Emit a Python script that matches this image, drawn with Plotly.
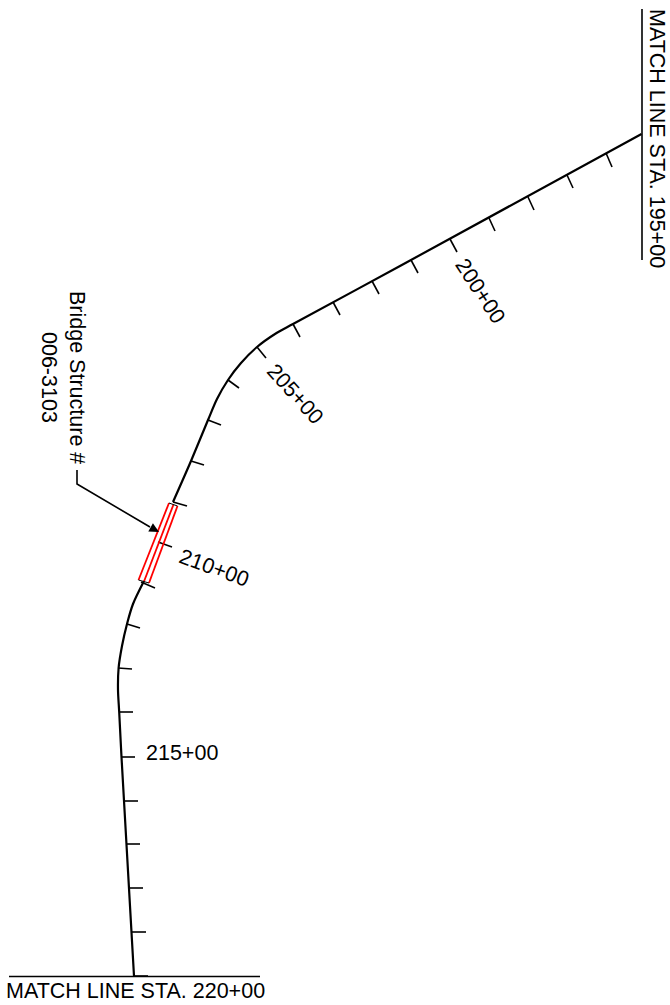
import plotly.graph_objects as go

# Alignment centreline
west_x = [641.5, 400, 293, 275, 257, 241, 228, 217, 208, 191, 173]
west_y = [134, 266, 324, 334, 347, 363, 380, 399, 420, 461, 502]
south_x = [144, 133, 127, 122, 118.6, 118, 119.2, 121.5, 134]
south_y = [581, 604, 624, 646, 668, 690, 712, 757, 976]

# Station ticks 196+00 .. 220+00
stations = [196, 197, 198, 199, 200, 201, 202, 203, 204, 205, 206, 207, 208, 209, 210, 211, 212, 213, 214, 215, 216, 217, 218, 219, 220]
tick_x0 = [606, 567, 528, 489, 450, 411, 372, 333, 293, 257, 228, 208, 191, 173, 158, 141, 127, 118, 119, 121, 124, 126, 129, 132, 134]
tick_y0 = [153, 175, 197, 218, 239, 260, 281, 302, 324, 347, 380, 420, 461, 502, 542, 582, 624, 668, 712, 757, 801, 844, 888, 932, 976]
tick_x1 = [612, 573, 534, 495, 457, 418, 379, 340, 300, 266, 239, 221, 204, 187, 172, 155, 140, 132, 133, 135, 138, 140, 143, 146, 148]
tick_y1 = [167, 188, 210, 231, 252, 273, 294, 315, 337, 358, 388, 425, 465, 506, 547, 588, 628, 669, 712, 757, 801, 844, 888, 932, 976]

# Bridge structure
bridge_left_x, bridge_left_y = [169, 138.5], [503, 580]
bridge_mid_x, bridge_mid_y = [173.5, 144], [504.5, 581.5]
bridge_right_x, bridge_right_y = [177.5, 149], [506, 583]
bridge_top_x, bridge_top_y = [169, 177.5], [503, 506]
bridge_bot_x, bridge_bot_y = [138.5, 149], [580, 583]

# Leader
leader_x = [77, 77, 150]
leader_y = [470, 484, 527]
arrow_tip = (159, 532)

# Match lines
match_bottom_x, match_bottom_y = [9, 260], [976.5, 976.5]
match_right_x, match_right_y = [642, 642], [9, 260]

# Labels
label_text = ["200+00", "205+00", "210+00", "215+00", "Bridge Structure #", "006-3103", "MATCH LINE STA. 195+00", "MATCH LINE STA. 220+00"]
label_x = [480, 295, 214, 182, 77, 49, 657, 135.5]
label_y = [291, 394, 568, 753, 377, 377, 138, 991]
label_angle = [57, 48, 20, 0, 90, 90, 90, 0]

BLACK = "#000000"
RED = "#ff0000"
fig = go.Figure()

def add(x, y, color=BLACK, w=2, shape="linear"):
    fig.add_trace(go.Scatter(x=x, y=y, mode="lines", line=dict(color=color, width=w, shape=shape, smoothing=0.8 if shape == "spline" else None),
                             hoverinfo="skip", showlegend=False))

add(west_x, west_y, w=2.2, shape="spline")
add(south_x, south_y, w=2.2, shape="spline")
tx, ty = [], []
for a, b, c, d in zip(tick_x0, tick_y0, tick_x1, tick_y1):
    tx += [a, c, None]
    ty += [b, d, None]
add(tx, ty, w=1.6)
add(match_bottom_x, match_bottom_y, w=1.6)
add(match_right_x, match_right_y, w=1.6)
add(leader_x, leader_y, w=1.6)
for x, y in [(bridge_left_x, bridge_left_y), (bridge_mid_x, bridge_mid_y), (bridge_right_x, bridge_right_y)]:
    add(x, y, RED, 1.8)
add(bridge_top_x, bridge_top_y, w=1)
add(bridge_bot_x, bridge_bot_y, w=1)

fig.add_annotation(x=arrow_tip[0], y=arrow_tip[1], ax=leader_x[-1], ay=leader_y[-1], xref="x", yref="y", axref="x", ayref="y",
                   text="", showarrow=True, arrowhead=2, arrowsize=1.2, arrowwidth=1.6, arrowcolor=BLACK)
for t, x, y, a in zip(label_text, label_x, label_y, label_angle):
    fig.add_annotation(x=x, y=y, xref="x", yref="y", text=t, textangle=a, showarrow=False,
                       font=dict(family="Liberation Sans", size=21.5, color=BLACK))

fig.update_layout(width=670, height=1005, margin=dict(l=0, r=0, t=0, b=0), paper_bgcolor="white", plot_bgcolor="white",
                  xaxis=dict(range=[0, 670], visible=False), yaxis=dict(range=[1005, 0], visible=False))
fig.write_html("out.html", config={"displayModeBar": False}, post_script="document.body.style.margin='0';")
